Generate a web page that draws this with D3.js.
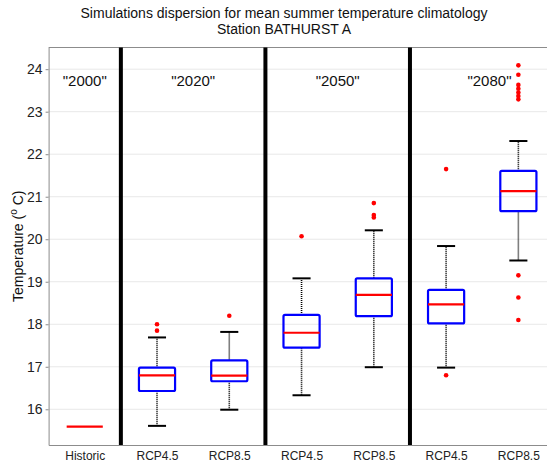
<!DOCTYPE html>
<html lang="en">
<head>
  <meta charset="UTF-8">
  <title>Simulations dispersion - BATHURST A</title>
  <script src="https://d3js.org/d3.v7.min.js"></script>
  <style>
    body {
      margin: 0;
      padding: 0;
      background: #fff;
      font-family: "Liberation Sans", Arial, sans-serif;
    }
    .axis path, .axis line { stroke: #8c8c8c; }
    .axis text { fill: #222; font-size: 14px; font-family: "Liberation Sans", Arial, sans-serif; }
  </style>
</head>
<body>
  <div id="chart"></div>

  <script>
    // categories and box statistics (temperature, deg C)
    const categories = ["Historic", "RCP4.5", "RCP8.5", "RCP4.5", "RCP8.5", "RCP4.5", "RCP8.5"];
    const whiskLow = [15.59, 15.61, 15.99, 16.33, 16.99, 16.98, 19.50];
    const q1 = [15.59, 16.43, 16.66, 17.45, 18.19, 18.02, 20.66];
    const median = [15.59, 16.80, 16.79, 17.80, 18.69, 18.47, 21.13];
    const q3 = [15.59, 16.98, 17.15, 18.22, 19.08, 18.81, 21.61];
    const whiskHigh = [15.59, 17.69, 17.82, 19.08, 20.21, 19.84, 22.31];
    const outliers = [
      [],
      [18.00, 17.85],
      [18.20],
      [20.07],
      [20.85, 20.57, 20.51],
      [21.65, 16.80],
      [24.09, 23.87, 23.63, 23.54, 23.45, 23.37, 23.29, 19.15, 18.63, 18.10]
    ];

    // period labels and separators (x in box positions)
    const periods = ['"2000"', '"2020"', '"2050"', '"2080"'];
    const periodPos = [1, 2.5, 4.5, 6.6];
    const periodLabelY = 23.73;
    const separators = [1.5, 3.5, 5.5];
    const yTicks = [16, 17, 18, 19, 20, 21, 22, 23, 24];

    const W = 547, H = 465;
    const plot = { left: 48.6, right: 554.5, top: 47.5, bottom: 445 };

    const svg = d3.select("#chart")
      .append("svg")
      .attr("width", W)
      .attr("height", H);

    const x = d3.scaleLinear().domain([0.5, 7.5]).range([plot.left, plot.right]);
    const y = d3.scaleLinear().domain([15.16, 24.51]).range([plot.bottom, plot.top]);

    const boxW = x(1.25) - x(1);   // half box width
    const capW = x(1.125) - x(1);  // half cap width

    // grid
    svg.append("g")
      .selectAll("line")
      .data(yTicks)
      .join("line")
      .attr("x1", plot.left)
      .attr("x2", plot.right)
      .attr("y1", d => y(d))
      .attr("y2", d => y(d))
      .attr("stroke", "#e8e8e8")
      .attr("stroke-width", 1);

    // top border
    svg.append("line")
      .attr("x1", plot.left).attr("x2", plot.right)
      .attr("y1", plot.top).attr("y2", plot.top)
      .attr("stroke", "#8c8c8c");

    // axes
    svg.append("g")
      .attr("class", "axis")
      .attr("transform", `translate(${plot.left},0)`)
      .call(d3.axisLeft(y).tickValues(yTicks).tickSize(3).tickSizeOuter(0).tickPadding(3));

    svg.append("g")
      .attr("class", "axis")
      .attr("transform", `translate(0,${plot.bottom})`)
      .call(d3.axisBottom(x).tickValues(d3.range(1, 8)).tickSize(0).tickSizeOuter(0).tickPadding(6)
        .tickFormat((d, i) => categories[i]))
      .selectAll("text")
      .style("font-size", "12px");

    // separators
    svg.append("g")
      .selectAll("line")
      .data(separators)
      .join("line")
      .attr("x1", d => x(d))
      .attr("x2", d => x(d))
      .attr("y1", plot.top)
      .attr("y2", plot.bottom)
      .attr("stroke", "#000")
      .attr("stroke-width", 4);

    // boxes
    const boxes = svg.append("g")
      .selectAll("g")
      .data(categories.map((c, i) => ({
        pos: i + 1, lo: whiskLow[i], q1: q1[i], med: median[i], q3: q3[i], hi: whiskHigh[i], out: outliers[i]
      })))
      .join("g");

    // whiskers (dotted)
    boxes.append("line")
      .attr("x1", d => x(d.pos)).attr("x2", d => x(d.pos))
      .attr("y1", d => y(d.q3)).attr("y2", d => y(d.hi))
      .attr("stroke", "#000").attr("stroke-width", 1.6).attr("stroke-dasharray", "1,1");
    boxes.append("line")
      .attr("x1", d => x(d.pos)).attr("x2", d => x(d.pos))
      .attr("y1", d => y(d.lo)).attr("y2", d => y(d.q1))
      .attr("stroke", "#000").attr("stroke-width", 1.6).attr("stroke-dasharray", "1,1");

    // caps (hidden when the box collapses to a single value)
    boxes.filter(d => d.hi > d.lo)
      .selectAll(".cap")
      .data(d => [d.lo, d.hi].map(v => ({ pos: d.pos, v })))
      .join("line")
      .attr("class", "cap")
      .attr("x1", d => x(d.pos) - capW).attr("x2", d => x(d.pos) + capW)
      .attr("y1", d => y(d.v)).attr("y2", d => y(d.v))
      .attr("stroke", "#000").attr("stroke-width", 2);

    // box
    boxes.filter(d => d.q3 > d.q1)
      .append("rect")
      .attr("x", d => x(d.pos) - boxW)
      .attr("width", boxW * 2)
      .attr("y", d => y(d.q3))
      .attr("height", d => y(d.q1) - y(d.q3))
      .attr("rx", 1.5)
      .attr("fill", "none")
      .attr("stroke", "#0000ff")
      .attr("stroke-width", 2.2);

    // median
    boxes.append("line")
      .attr("x1", d => x(d.pos) - boxW).attr("x2", d => x(d.pos) + boxW)
      .attr("y1", d => y(d.med)).attr("y2", d => y(d.med))
      .attr("stroke", "#ff0000").attr("stroke-width", 2.2);

    // outliers
    boxes.selectAll(".out")
      .data(d => d.out.map(v => ({ pos: d.pos, v })))
      .join("circle")
      .attr("class", "out")
      .attr("cx", d => x(d.pos))
      .attr("cy", d => y(d.v))
      .attr("r", 2.3)
      .attr("fill", "#ff0000");

    // period labels
    svg.append("g")
      .selectAll("text")
      .data(periods)
      .join("text")
      .attr("x", (d, i) => x(periodPos[i]))
      .attr("y", y(periodLabelY))
      .attr("dy", "0.35em")
      .attr("text-anchor", "middle")
      .style("font-size", "15px")
      .style("fill", "#111")
      .text(d => d);

    // title
    const title = svg.append("text")
      .attr("text-anchor", "middle")
      .style("font-size", "14px")
      .style("fill", "#111");
    title.append("tspan").attr("x", 284).attr("y", 18).text("Simulations dispersion for mean summer temperature climatology");
    title.append("tspan").attr("x", 284).attr("y", 34).text("Station BATHURST A");

    // y label
    const ylab = svg.append("text")
      .attr("transform", `translate(23,${(plot.top + plot.bottom) / 2}) rotate(-90)`)
      .attr("text-anchor", "middle")
      .style("font-size", "14px")
      .style("fill", "#111");
    ylab.append("tspan").text("Temperature (");
    ylab.append("tspan").attr("dy", -6).style("font-size", "10px").text("o");
    ylab.append("tspan").attr("dy", 6).text(" C)");
  </script>
</body>
</html>
